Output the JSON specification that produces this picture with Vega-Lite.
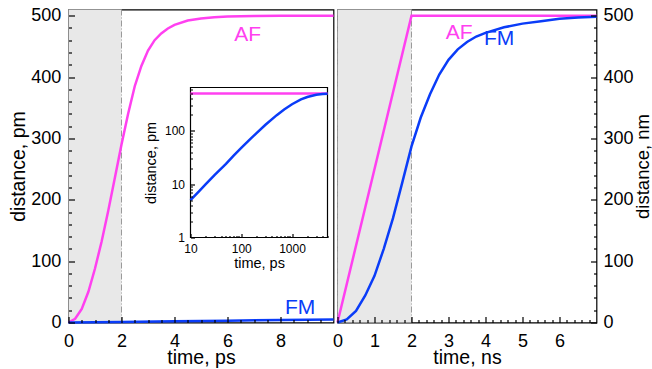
{
  "$schema": "https://vega.github.io/schema/vega-lite/v6.json",
  "background": "white",
  "padding": {"left": 7.5, "top": 5.5, "right": 0, "bottom": 0},
  "spacing": 4,
  "bounds": "flush",
  "config": {
    "font": "Liberation Sans",
    "view": {"stroke": "black", "strokeWidth": 1.2},
    "axis": {"labelFont": "Liberation Sans", "titleFont": "Liberation Sans", "labelColor": "black", "titleColor": "black", "titleFontWeight": "normal", "tickColor": "black", "ticks": true, "domain": false, "grid": false, "labelFontSize": 18, "titleFontSize": 19.5, "labelOverlap": false, "labelFlush": false, "tickWidth": 1.2}
  },
  "datasets": {
    "left": [
      {"t": 0, "d": 0, "s": "AF"}, {"t": 0.25, "d": 6, "s": "AF"}, {"t": 0.5, "d": 22, "s": "AF"}, {"t": 0.75, "d": 50, "s": "AF"},
      {"t": 1, "d": 88, "s": "AF"}, {"t": 1.25, "d": 132, "s": "AF"}, {"t": 1.5, "d": 182, "s": "AF"}, {"t": 1.75, "d": 236, "s": "AF"},
      {"t": 2, "d": 290, "s": "AF"}, {"t": 2.25, "d": 340, "s": "AF"}, {"t": 2.5, "d": 385, "s": "AF"}, {"t": 2.75, "d": 418, "s": "AF"},
      {"t": 3, "d": 443, "s": "AF"}, {"t": 3.25, "d": 460, "s": "AF"}, {"t": 3.5, "d": 471, "s": "AF"}, {"t": 3.75, "d": 479, "s": "AF"},
      {"t": 4, "d": 485, "s": "AF"}, {"t": 4.5, "d": 492, "s": "AF"}, {"t": 5, "d": 495.5, "s": "AF"}, {"t": 5.5, "d": 497.5, "s": "AF"},
      {"t": 6, "d": 498.5, "s": "AF"}, {"t": 7, "d": 499.5, "s": "AF"}, {"t": 8, "d": 500, "s": "AF"}, {"t": 10, "d": 500, "s": "AF"},
      {"t": 0, "d": 0, "s": "FM"}, {"t": 2, "d": 1, "s": "FM"}, {"t": 4, "d": 2, "s": "FM"}, {"t": 6, "d": 3, "s": "FM"}, {"t": 8, "d": 4, "s": "FM"}, {"t": 10, "d": 5, "s": "FM"}
    ],
    "right": [
      {"t": 0, "d": 0, "s": "AF"}, {"t": 2, "d": 500, "s": "AF"}, {"t": 7, "d": 500, "s": "AF"},
      {"t": 0, "d": 0, "s": "FM"}, {"t": 0.25, "d": 5, "s": "FM"}, {"t": 0.5, "d": 19, "s": "FM"}, {"t": 0.75, "d": 44, "s": "FM"},
      {"t": 1, "d": 76, "s": "FM"}, {"t": 1.25, "d": 120, "s": "FM"}, {"t": 1.5, "d": 170, "s": "FM"}, {"t": 1.75, "d": 228, "s": "FM"},
      {"t": 2, "d": 287, "s": "FM"}, {"t": 2.25, "d": 334, "s": "FM"}, {"t": 2.5, "d": 372, "s": "FM"}, {"t": 2.75, "d": 404, "s": "FM"},
      {"t": 3, "d": 428, "s": "FM"}, {"t": 3.25, "d": 445, "s": "FM"}, {"t": 3.5, "d": 457, "s": "FM"}, {"t": 3.75, "d": 466, "s": "FM"},
      {"t": 4, "d": 472, "s": "FM"}, {"t": 4.5, "d": 481, "s": "FM"}, {"t": 5, "d": 487, "s": "FM"}, {"t": 5.5, "d": 491, "s": "FM"},
      {"t": 6, "d": 495, "s": "FM"}, {"t": 6.5, "d": 497, "s": "FM"}, {"t": 7, "d": 498, "s": "FM"}
    ],
    "inset": [
      {"t": 10, "d": 500, "s": "AF"}, {"t": 5000, "d": 500, "s": "AF"},
      {"t": 10, "d": 5, "s": "FM"}, {"t": 15, "d": 7.5, "s": "FM"}, {"t": 20, "d": 10, "s": "FM"}, {"t": 30, "d": 15, "s": "FM"},
      {"t": 50, "d": 24, "s": "FM"}, {"t": 70, "d": 34, "s": "FM"}, {"t": 100, "d": 48, "s": "FM"}, {"t": 150, "d": 70, "s": "FM"},
      {"t": 200, "d": 91, "s": "FM"}, {"t": 300, "d": 130, "s": "FM"}, {"t": 500, "d": 197, "s": "FM"}, {"t": 700, "d": 252, "s": "FM"},
      {"t": 1000, "d": 316, "s": "FM"}, {"t": 1500, "d": 388, "s": "FM"}, {"t": 2000, "d": 432, "s": "FM"}, {"t": 3000, "d": 475, "s": "FM"},
      {"t": 4000, "d": 490, "s": "FM"}, {"t": 5000, "d": 497, "s": "FM"}
    ],
    "labelsL": [{"t": 6.76, "d": 468, "s": "AF"}, {"t": 8.74, "d": 24, "s": "FM"}],
    "labelsR": [{"t": 3.29, "d": 471, "s": "AF"}, {"t": 4.37, "d": 462, "s": "FM"}]
  },
  "hconcat": [
    {
      "width": 265,
      "height": 313,
      "layer": [
        {
          "layer": [
            {
              "data": {"values": [{"t": 0, "t2": 2}]},
              "mark": {"type": "rect", "fill": "#e8e8e8"},
              "encoding": {
                "x": {"field": "t", "type": "quantitative", "axis": null},
                "x2": {"field": "t2"}
              }
            },
            {
              "data": {"values": [{"t": 2}]},
              "mark": {"type": "rule", "color": "#9a9a9a", "strokeWidth": 1, "strokeDash": [6, 2, 1, 2]},
              "encoding": {"x": {"field": "t", "type": "quantitative", "axis": null}}
            },
            {
              "data": {"name": "left"},
              "mark": {"type": "line", "strokeWidth": 2.5},
              "encoding": {
                "x": {"field": "t", "type": "quantitative", "scale": {"domain": [0, 10], "nice": false, "zero": false},
                  "axis": {"orient": "bottom", "zindex": 1, "title": "time, ps", "values": [0, 2, 4, 6, 8], "format": "d", "offset": -6, "tickSize": 6, "labelPadding": 9.5, "titlePadding": -2}},
                "y": {"field": "d", "type": "quantitative", "scale": {"domain": [0, 510], "nice": false, "zero": false},
                  "axis": {"orient": "left", "zindex": 1, "title": "distance, pm", "values": [0, 100, 200, 300, 400, 500], "format": "d", "offset": -6, "tickSize": 6, "labelPadding": 7.6, "titlePadding": 2}},
                "color": {"field": "s", "type": "nominal", "scale": {"domain": ["AF", "FM"], "range": ["#ff40f0", "#0a3cf8"]}, "legend": null}
              }
            },
            {
              "data": {"name": "labelsL"},
              "mark": {"type": "text", "fontSize": 21, "align": "center", "baseline": "middle", "font": "Liberation Sans"},
              "encoding": {
                "x": {"field": "t", "type": "quantitative",
                  "axis": {"orient": "bottom", "zindex": 1, "values": [0.5, 1, 1.5, 2.5, 3, 3.5, 4.5, 5, 5.5, 6.5, 7, 7.5, 8.5, 9, 9.5], "labels": false, "title": null, "offset": -3, "tickSize": 3}},
                "y": {"field": "d", "type": "quantitative",
                  "axis": {"orient": "left", "zindex": 1, "values": [20, 40, 60, 80, 120, 140, 160, 180, 220, 240, 260, 280, 320, 340, 360, 380, 420, 440, 460, 480], "labels": false, "title": null, "offset": -3, "tickSize": 3}},
                "text": {"field": "s"},
                "color": {"field": "s", "type": "nominal", "legend": null}
              }
            }
          ],
          "resolve": {"axis": {"x": "independent", "y": "independent"}}
        },
        {
          "layer": [
            {
              "data": {"values": [{"t": 10, "t2": 5000, "d": 1, "d2": 650}]},
              "mark": {"type": "rect", "fill": "white", "stroke": "black", "strokeWidth": 1.2},
              "encoding": {
                "x": {"field": "t", "type": "quantitative", "scale": {"type": "log", "domain": [10, 5000], "range": [122, 259], "nice": false},
                  "axis": {"orient": "bottom", "zindex": 1, "offset": -89, "title": "time, ps", "titleFontSize": 14.5, "labelFontSize": 12,
                    "values": [10, 100, 1000], "format": "d", "tickSize": 4, "labelPadding": 6, "titlePadding": 2}},
                "x2": {"field": "t2"},
                "y": {"field": "d", "type": "quantitative", "scale": {"type": "log", "domain": [1, 650], "range": [228, 78], "nice": false},
                  "axis": {"orient": "left", "zindex": 1, "offset": -126, "title": "distance, pm", "titleFontSize": 14.5, "labelFontSize": 12,
                    "values": [1, 10, 100], "format": "d", "tickSize": 4, "labelPadding": 6, "titlePadding": 6}},
                "y2": {"field": "d2"}
              }
            },
            {
              "data": {"name": "inset"},
              "mark": {"type": "line", "strokeWidth": 2.5},
              "encoding": {
                "x": {"field": "t", "type": "quantitative",
                  "axis": {"orient": "bottom", "zindex": 1, "offset": -87, "title": null, "labels": false, "tickSize": 2,
                    "values": [20, 30, 40, 50, 60, 70, 80, 90, 200, 300, 400, 500, 600, 700, 800, 900, 2000, 3000, 4000, 5000]}},
                "y": {"field": "d", "type": "quantitative",
                  "axis": {"orient": "left", "zindex": 1, "offset": -124, "title": null, "labels": false, "tickSize": 2,
                    "values": [2, 3, 4, 5, 6, 7, 8, 9, 20, 30, 40, 50, 60, 70, 80, 90, 200, 300, 400, 500, 600]}},
                "color": {"field": "s", "type": "nominal", "legend": null}
              }
            }
          ],
          "resolve": {"axis": {"x": "independent", "y": "independent"}}
        }
      ],
      "resolve": {"scale": {"x": "independent", "y": "independent"}}
    },
    {
      "width": 259,
      "height": 313,
      "layer": [
        {
          "data": {"values": [{"t": 0, "t2": 2}]},
          "mark": {"type": "rect", "fill": "#e8e8e8"},
          "encoding": {
            "x": {"field": "t", "type": "quantitative", "axis": null},
            "x2": {"field": "t2"}
          }
        },
        {
          "data": {"values": [{"t": 0}, {"t": 2}]},
          "mark": {"type": "rule", "color": "#9a9a9a", "strokeWidth": 1, "strokeDash": [6, 2, 1, 2]},
          "encoding": {"x": {"field": "t", "type": "quantitative", "axis": null}}
        },
        {
          "data": {"name": "right"},
          "mark": {"type": "line", "strokeWidth": 2.5},
          "encoding": {
            "x": {"field": "t", "type": "quantitative", "scale": {"domain": [0, 7], "nice": false, "zero": false},
              "axis": {"orient": "bottom", "zindex": 1, "title": "time, ns", "values": [0, 1, 2, 3, 4, 5, 6], "format": "d", "offset": -6, "tickSize": 6, "labelPadding": 9.5, "titlePadding": -2}},
            "y": {"field": "d", "type": "quantitative", "scale": {"domain": [0, 510], "nice": false, "zero": false},
              "axis": {"orient": "right", "zindex": 1, "title": "distance, nm", "titleAngle": 270, "titleBaseline": "top", "titleFontSize": 18.5, "values": [0, 100, 200, 300, 400, 500], "format": "d", "offset": -6, "tickSize": 6, "labelPadding": 6.4, "titlePadding": 1}},
            "color": {"field": "s", "type": "nominal", "scale": {"domain": ["AF", "FM"], "range": ["#ff40f0", "#0a3cf8"]}, "legend": null}
          }
        },
        {
          "data": {"name": "labelsR"},
          "mark": {"type": "text", "fontSize": 21, "align": "center", "baseline": "middle", "font": "Liberation Sans"},
          "encoding": {
            "x": {"field": "t", "type": "quantitative",
              "axis": {"orient": "bottom", "zindex": 1, "values": [0.2, 0.4, 0.6, 0.8, 1.2, 1.4, 1.6, 1.8, 2.2, 2.4, 2.6, 2.8, 3.2, 3.4, 3.6, 3.8, 4.2, 4.4, 4.6, 4.8, 5.2, 5.4, 5.6, 5.8, 6.2, 6.4, 6.6, 6.8], "labels": false, "title": null, "offset": -3, "tickSize": 3}},
            "y": {"field": "d", "type": "quantitative",
              "axis": {"orient": "right", "zindex": 1, "values": [20, 40, 60, 80, 120, 140, 160, 180, 220, 240, 260, 280, 320, 340, 360, 380, 420, 440, 460, 480], "labels": false, "title": null, "offset": -3, "tickSize": 3}},
            "text": {"field": "s"},
            "color": {"field": "s", "type": "nominal", "legend": null}
          }
        }
      ],
      "resolve": {"axis": {"x": "independent", "y": "independent"}}
    }
  ]
}
